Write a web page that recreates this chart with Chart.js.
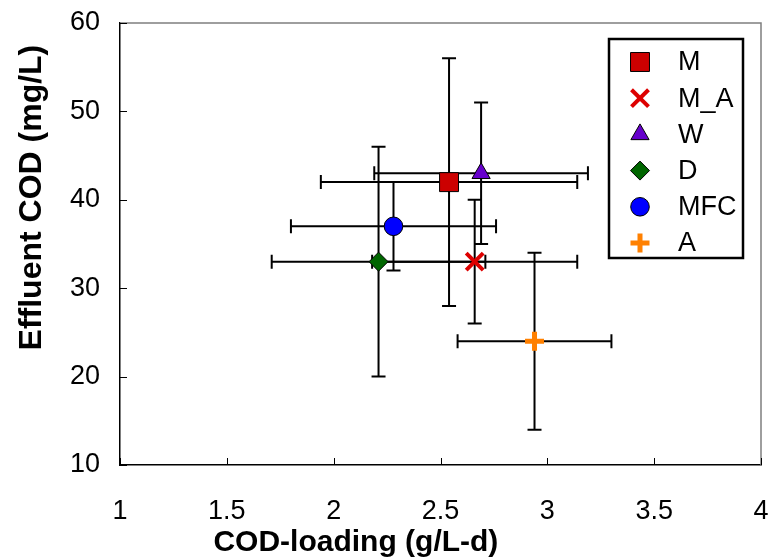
<!DOCTYPE html>
<html><head><meta charset="utf-8">
<script src="https://cdn.jsdelivr.net/npm/chart.js@4/dist/chart.umd.min.js"></script>
<style>html,body{margin:0;padding:0;background:#fff}#wrap{width:777px;height:560px}</style>
</head><body><div id="wrap"><canvas id="c" width="777" height="560"></canvas></div>
<script>
// ---- data ----
const seriesNames = ['M', 'M_A', 'W', 'D', 'MFC', 'A'];
const codLoading = [2.54, 2.66, 2.69, 2.21, 2.28, 2.94];
const codLoadingErr = [0.60, 0.48, 0.50, 0.50, 0.48, 0.36];
const effluentCOD = [42, 33, 43, 33, 37, 24];
const effluentCODErr = [14, 7, 8, 13, 5, 10];
const xTicks = [1, 1.5, 2, 2.5, 3, 3.5, 4];
const yTicks = [10, 20, 30, 40, 50, 60];
const xTitle = 'COD-loading (g/L-d)';
const yTitle = 'Effluent COD (mg/L)';

// ---- styles ----
const FONT = "Arial, 'Liberation Sans', sans-serif";
const markerStyles = [
  {pointStyle: 'rect', radius: 13.4, bg: '#CC0000', border: '#000000', bw: 1},
  {pointStyle: 'crossRot', radius: 12, bg: '#DD0000', border: '#DD0000', bw: 4},
  {pointStyle: 'triangle', radius: 10.5, bg: '#6600CC', border: '#000000', bw: 1},
  {pointStyle: 'rectRot', radius: 9.5, bg: '#006600', border: '#000000', bw: 1},
  {pointStyle: 'circle', radius: 9.3, bg: '#0000FF', border: '#000000', bw: 1},
  {pointStyle: 'cross', radius: 9.5, bg: '#FF8000', border: '#FF8000', bw: 5}
];

const datasets = seriesNames.map((name, i) => ({
  label: name,
  data: [{x: codLoading[i], y: effluentCOD[i]}],
  xErr: codLoadingErr[i],
  yErr: effluentCODErr[i],
  pointStyle: markerStyles[i].pointStyle,
  pointRadius: markerStyles[i].radius,
  pointHoverRadius: markerStyles[i].radius,
  backgroundColor: markerStyles[i].bg,
  borderColor: markerStyles[i].border,
  pointBorderWidth: markerStyles[i].bw,
  borderWidth: markerStyles[i].bw
}));

function drawMarker(ctx, st, x, y) {
  ctx.save();
  ctx.fillStyle = st.bg; ctx.strokeStyle = st.border; ctx.lineWidth = st.bw;
  const r = st.radius;
  ctx.beginPath();
  if (st.pointStyle === 'rect') {
    const s = Math.SQRT1_2 * r;
    ctx.rect(x - s, y - s, 2 * s, 2 * s); ctx.fill(); ctx.stroke();
  } else if (st.pointStyle === 'crossRot') {
    const o = Math.SQRT1_2 * r;
    ctx.moveTo(x - o, y - o); ctx.lineTo(x + o, y + o);
    ctx.moveTo(x + o, y - o); ctx.lineTo(x - o, y + o); ctx.stroke();
  } else if (st.pointStyle === 'cross') {
    ctx.moveTo(x - r, y); ctx.lineTo(x + r, y);
    ctx.moveTo(x, y - r); ctx.lineTo(x, y + r); ctx.stroke();
  } else if (st.pointStyle === 'triangle') {
    const a = Math.PI * 2 / 3;
    ctx.moveTo(x, y - r);
    ctx.lineTo(x + Math.sin(a) * r, y - Math.cos(a) * r);
    ctx.lineTo(x + Math.sin(2 * a) * r, y - Math.cos(2 * a) * r);
    ctx.closePath(); ctx.fill(); ctx.stroke();
  } else if (st.pointStyle === 'rectRot') {
    ctx.moveTo(x, y - r); ctx.lineTo(x + r, y); ctx.lineTo(x, y + r); ctx.lineTo(x - r, y);
    ctx.closePath(); ctx.fill(); ctx.stroke();
  } else {
    ctx.arc(x, y, r, 0, Math.PI * 2); ctx.fill(); ctx.stroke();
  }
  ctx.restore();
}

const decorPlugin = {
  id: 'decor',
  beforeDatasetsDraw(chart) {
    const {ctx, chartArea: a, scales: {x: xs, y: ys}} = chart;
    ctx.save();
    // top & right frame
    ctx.strokeStyle = '#7f7f7f'; ctx.lineWidth = 1.5;
    ctx.beginPath();
    ctx.moveTo(a.left, a.top); ctx.lineTo(a.right, a.top); ctx.lineTo(a.right, a.bottom);
    ctx.stroke();
    // inward ticks
    ctx.strokeStyle = '#000'; ctx.lineWidth = 1;
    ctx.beginPath();
    xTicks.forEach(v => { const px = Math.round(xs.getPixelForValue(v)) + 0.5; ctx.moveTo(px, a.bottom); ctx.lineTo(px, a.bottom - 7); });
    yTicks.forEach(v => { const py = Math.round(ys.getPixelForValue(v)) + 0.5; ctx.moveTo(a.left, py); ctx.lineTo(a.left + 7, py); });
    ctx.stroke();
    // error bars
    ctx.strokeStyle = '#000'; ctx.lineWidth = 2;
    const cap = 7;
    chart.data.datasets.forEach(ds => {
      const p = ds.data[0];
      const cx = xs.getPixelForValue(p.x), cy = ys.getPixelForValue(p.y);
      const x0 = xs.getPixelForValue(p.x - ds.xErr), x1 = xs.getPixelForValue(p.x + ds.xErr);
      const y0 = ys.getPixelForValue(p.y - ds.yErr), y1 = ys.getPixelForValue(p.y + ds.yErr);
      ctx.beginPath();
      ctx.moveTo(x0, cy); ctx.lineTo(x1, cy);
      ctx.moveTo(x0, cy - cap); ctx.lineTo(x0, cy + cap);
      ctx.moveTo(x1, cy - cap); ctx.lineTo(x1, cy + cap);
      ctx.moveTo(cx, y0); ctx.lineTo(cx, y1);
      ctx.moveTo(cx - cap, y0); ctx.lineTo(cx + cap, y0);
      ctx.moveTo(cx - cap, y1); ctx.lineTo(cx + cap, y1);
      ctx.stroke();
    });
    ctx.restore();
  },
  afterDraw(chart) {
    const {ctx, chartArea: a} = chart;
    ctx.save();
    // axis titles
    ctx.fillStyle = '#000';
    ctx.textAlign = 'center'; ctx.textBaseline = 'middle';
    ctx.font = 'bold 30px ' + FONT;
    ctx.fillText(xTitle, a.left + (a.right - a.left) * 0.368, 543);
    ctx.save();
    ctx.font = 'bold 32px ' + FONT;
    ctx.translate(32, a.top + (a.bottom - a.top) * 0.395);
    ctx.rotate(-Math.PI / 2);
    ctx.fillText(yTitle, 0, 0);
    ctx.restore();
    // legend
    const bx0 = a.right - 152, by0 = a.top + 16, bw = 134, bh = 219;
    ctx.strokeStyle = '#000'; ctx.lineWidth = 2.5;
    ctx.fillStyle = '#fff';
    ctx.fillRect(bx0, by0, bw, bh);
    ctx.strokeRect(bx0, by0, bw, bh);
    ctx.font = '27px ' + FONT;
    ctx.textAlign = 'left'; ctx.textBaseline = 'middle';
    seriesNames.forEach((n, i) => {
      const ry = by0 + 23 + i * 36.2;
      drawMarker(ctx, markerStyles[i], bx0 + 31, ry);
      ctx.fillStyle = '#000';
      ctx.fillText(n, bx0 + 69, ry + 1);
    });
    ctx.restore();
  }
};

function noPad(s) { s.paddingLeft = 0; s.paddingRight = 0; s.paddingTop = 0; s.paddingBottom = 0; }

new Chart(document.getElementById('c'), {
  type: 'scatter',
  data: {datasets},
  options: {
    responsive: false,
    animation: false,
    devicePixelRatio: 1,
    layout: {padding: {left: 0, right: 12, top: 23, bottom: 0}},
    plugins: {legend: {display: false}, tooltip: {enabled: false}},
    scales: {
      x: {
        type: 'linear', min: 1, max: 4,
        afterBuildTicks: s => { s.ticks = xTicks.map(v => ({value: v})); },
        afterFit: s => { s.height = 95; noPad(s); },
        grid: {display: false, drawTicks: false},
        border: {display: true, color: '#000', width: 1.5},
        ticks: {color: '#000', font: {family: FONT, size: 27}, padding: 30, maxRotation: 0, autoSkip: false,
          callback: v => String(v)}
      },
      y: {
        type: 'linear', min: 10, max: 60,
        afterBuildTicks: s => { s.ticks = yTicks.map(v => ({value: v})); },
        afterFit: s => { s.width = 120; noPad(s); },
        grid: {display: false, drawTicks: false},
        border: {display: true, color: '#000', width: 1.5},
        ticks: {color: '#000', font: {family: FONT, size: 27}, padding: 20, autoSkip: false,
          callback: v => String(v)}
      }
    }
  },
  plugins: [decorPlugin]
});
</script></body></html>
